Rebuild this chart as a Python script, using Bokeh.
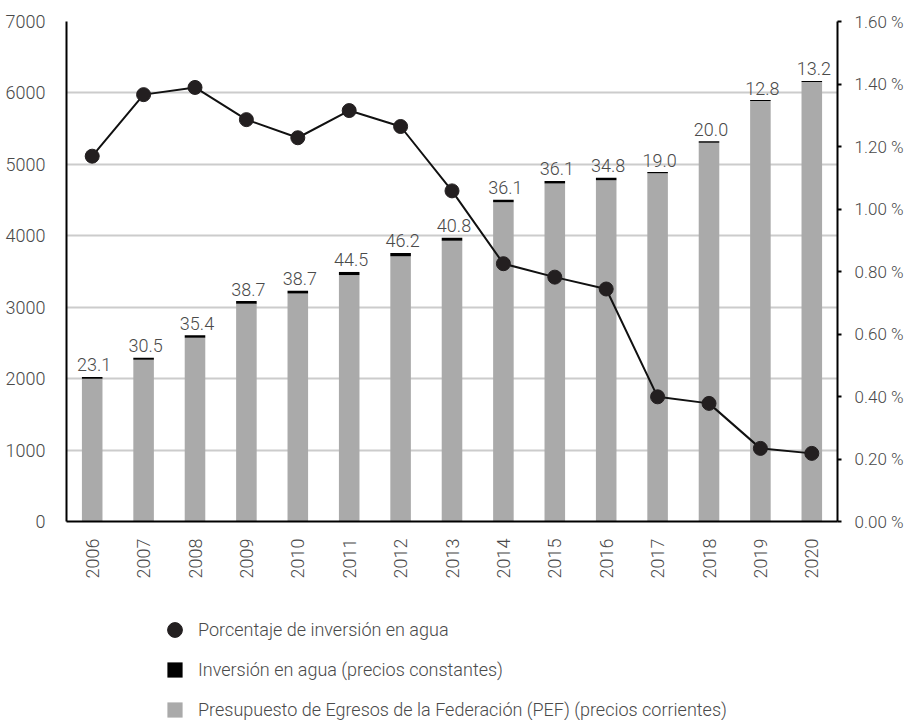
import math
from bokeh.plotting import figure
from bokeh.layouts import column
from bokeh.models import (Range1d, LinearAxis, FactorRange, ColumnDataSource, Legend,
                          LegendItem, FixedTicker, PrintfTickFormatter)
from bokeh.core.properties import value
from bokeh.embed import file_html
from bokeh.resources import INLINE

years = ["2006", "2007", "2008", "2009", "2010", "2011", "2012", "2013",
         "2014", "2015", "2016", "2017", "2018", "2019", "2020"]
pef = [2000, 2263, 2572, 3048, 3192, 3449, 3713, 3932, 4469, 4731, 4778, 4874, 5303, 5888, 6154]
inversion = [23.1, 30.5, 35.4, 38.7, 38.7, 44.5, 46.2, 40.8, 36.1, 36.1, 34.8, 19.0, 20.0, 12.8, 13.2]
porcentaje = [1.169, 1.366, 1.389, 1.286, 1.228, 1.315, 1.264, 1.058, 0.825, 0.782, 0.744,
              0.399, 0.378, 0.234, 0.218]
left_ticks = [0, 1000, 2000, 3000, 4000, 5000, 6000, 7000]
right_ticks = [0.0, 0.2, 0.4, 0.6, 0.8, 1.0, 1.2, 1.4, 1.6]
legend_labels = ["Porcentaje de inversión en agua",
                 "Inversión en agua (precios constantes)",
                 "Presupuesto de Egresos de la Federación (PEF) (precios corrientes)"]

FONT = "Roboto Light"
TXT = "#4a4a4a"
GRAY = "#aaaaaa"
DOT = "#231f20"

src = ColumnDataSource(dict(
    year=years, pef=pef, inv=inversion, pct=porcentaje,
    top=[a + b for a, b in zip(pef, inversion)],
    label=[f"{v:.1f}" for v in inversion],
))

p = figure(x_range=FactorRange(*years, range_padding=0),
           y_range=Range1d(0, 7000),
           width=911, height=590,
           min_border_left=66, min_border_top=21, min_border_right=74,
           min_border_bottom=69,
           output_backend="svg", toolbar_location=None)
p.extra_y_ranges = {"pct": Range1d(0, 1.6)}
p.outline_line_color = None

bars = p.vbar_stack(["pef", "inv"], x="year", width=0.4, color=[GRAY, "#000000"],
                    line_color=None, source=src)

p.text(x="year", y="top", text="label", source=src, text_align="center",
       text_baseline="alphabetic", y_offset=-12, x_offset=2,
       text_font=value(FONT), text_font_size="18px", text_color=TXT)

p.line(x="year", y="pct", y_range_name="pct", source=src, line_color="#111111", line_width=2)
p.scatter(x="year", y="pct", y_range_name="pct", source=src, size=14,
          fill_color=DOT, line_color=DOT)

# axes
p.yaxis.ticker = FixedTicker(ticks=left_ticks)
p.yaxis.axis_line_width = 2
p.yaxis.axis_line_color = "black"
p.yaxis.major_tick_line_color = None
p.yaxis.minor_tick_line_color = None
p.yaxis.major_label_standoff = 15
p.yaxis.major_label_text_font = FONT
p.yaxis.major_label_text_font_size = "18px"
p.yaxis.major_label_text_color = TXT

p.xaxis.axis_line_width = 2
p.xaxis.axis_line_color = "black"
p.xaxis.major_tick_line_color = None
p.xaxis.minor_tick_line_color = None
p.xaxis.major_label_orientation = math.pi / 2
p.xaxis.major_label_standoff = 11
p.xaxis.major_label_text_font = FONT
p.xaxis.major_label_text_font_size = "18px"
p.xaxis.major_label_text_color = TXT

ra = LinearAxis(y_range_name="pct", ticker=FixedTicker(ticks=right_ticks),
                formatter=PrintfTickFormatter(format="%.2f %%"))
ra.axis_line_width = 2
ra.axis_line_color = "black"
ra.major_tick_line_color = "black"
ra.major_tick_line_width = 2
ra.major_tick_out = 4
ra.major_tick_in = 0
ra.minor_tick_line_color = None
ra.major_label_standoff = 13
ra.major_label_text_font = FONT
ra.major_label_text_font_size = "17px"
ra.major_label_text_color = TXT
p.add_layout(ra, "right")

p.xgrid.visible = False
p.ygrid.ticker = FixedTicker(ticks=left_ticks)
p.ygrid.grid_line_color = "#cccccc"
p.ygrid.grid_line_width = 2

# legend panel (separate figure below the chart); its glyphs are hidden, only the legend shows
p2 = figure(width=911, height=130, x_range=FactorRange(*years, range_padding=0),
            y_range=Range1d(-20000, -10000),
            x_axis_location=None, y_axis_location=None,
            min_border_left=66, min_border_right=74, min_border_top=0, min_border_bottom=0,
            output_backend="svg", toolbar_location=None)
p2.grid.visible = False
p2.outline_line_color = None
g1 = p2.scatter(x="year", y="pct", source=src, marker="circle", fill_color=DOT, line_color=DOT)
g2 = p2.vbar(x="year", top="inv", width=0.4, source=src, fill_color="#000000",
             line_color=None, visible=False)
g3 = p2.vbar(x="year", top="pef", width=0.4, source=src, fill_color=GRAY,
             line_color=None, visible=False)

common = dict(orientation="vertical", padding=0, margin=0,
              border_line_color=None, background_fill_alpha=0,
              label_text_font=FONT, label_text_font_size="18px", label_text_color=TXT)

legend1 = Legend(items=[LegendItem(label=legend_labels[0], renderers=[g1])],
                 location=(90, 72), glyph_width=37, glyph_height=37, label_height=37,
                 label_standoff=5, **common)
legend2 = Legend(items=[LegendItem(label=legend_labels[1], renderers=[g2]),
                        LegendItem(label=legend_labels[2], renderers=[g3])],
                 location=(99, 0), glyph_width=19, glyph_height=19, label_height=21,
                 spacing=19, label_standoff=14, **common)
p2.add_layout(legend1)
p2.add_layout(legend2)

open("out.html", "w").write(file_html(column(p, p2, spacing=0), INLINE))
